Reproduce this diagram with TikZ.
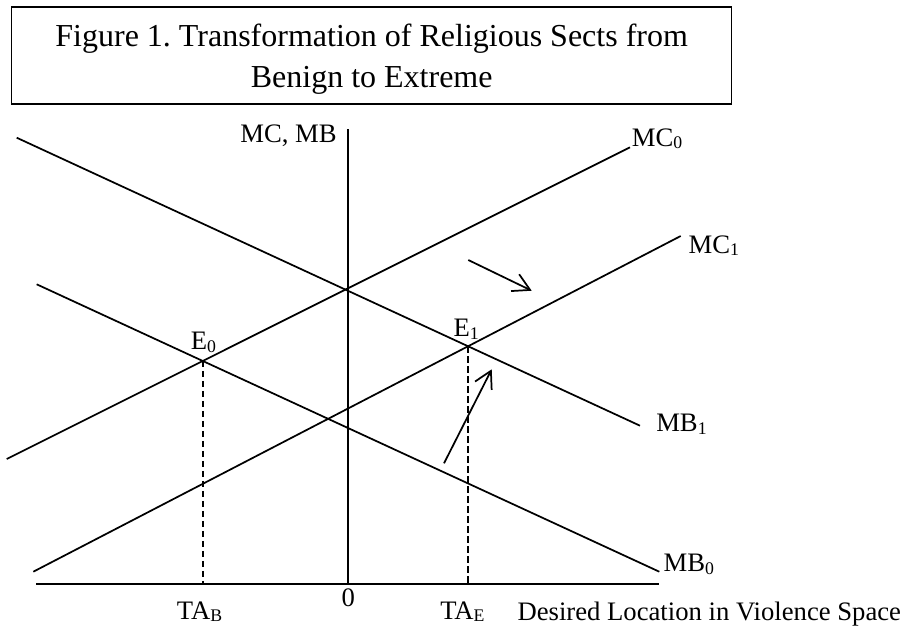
\documentclass[tikz,border=0pt]{standalone}
\usepackage{fontspec}
\setmainfont{Liberation Serif}
\usetikzlibrary{arrows.meta}
\newcommand{\lsub}[1]{\raisebox{-2pt}{\fontsize{13.3pt}{13.3pt}\selectfont #1}}
\frenchspacing
\begin{document}
\begin{tikzpicture}[x=0.75pt,y=-0.75pt,
  curve/.style={line width=1.3pt},
  boxline/.style={line width=0.8pt},
  lbl/.style={inner sep=0pt, font=\fontsize{20pt}{24pt}\selectfont},
  ttl/.style={inner sep=0pt, font=\fontsize{24pt}{29pt}\selectfont},
  guide/.style={line width=1.3pt, dash pattern=on 4.8pt off 2.7pt},
  shiftarrow/.style={line width=1.3pt, -{Straight Barb[length=12.5pt,width=14pt]}}]
\useasboundingbox (0,0) rectangle (910,626);

% title box
\coordinate (tbA) at (11.7,7);
\coordinate (tbB) at (731.7,104);
\draw[boxline] (tbA) rectangle (tbB);
\node[ttl, anchor=base] (title1) at (371.7,46.7) {Figure 1. Transformation of Religious Sects from};
\node[ttl, anchor=base] (title2) at (371.7,87.3) {Benign to Extreme};

% axes
\coordinate (ytop) at (348.3,129.3);
\coordinate (O) at (348.3,584);
\coordinate (xl) at (36,584);
\coordinate (xr) at (659.3,584);
\draw[curve] (ytop) -- (O);
\draw[curve] (xl) -- (xr);

% curves
\coordinate (mb1a) at (16.7,137.7);
\coordinate (mb1b) at (640,425.7);
\coordinate (mc0a) at (6.7,459);
\coordinate (mc0b) at (630,147.3);
\coordinate (mc1a) at (33.3,571.7);
\coordinate (mc1b) at (680.7,236);
\coordinate (mb0a) at (36.7,284.3);
\coordinate (mb0b) at (659.3,571.7);
\draw[curve] (mb1a) -- (mb1b);
\draw[curve] (mc0a) -- (mc0b);
\draw[curve] (mc1a) -- (mc1b);
\draw[curve] (mb0a) -- (mb0b);

% equilibria
\coordinate (E0) at (intersection of mb0a--mb0b and mc0a--mc0b);
\coordinate (E1) at (intersection of mb1a--mb1b and mc1a--mc1b);
\draw[guide] (E0) -- (E0 |- O);
\draw[guide] (E1) -- (E1 |- O);

% shift arrows
\coordinate (a1s) at (468.3,260);
\coordinate (a1e) at (531.7,290.7);
\coordinate (a2s) at (444,463.3);
\coordinate (a2e) at (491.7,369.3);
\draw[shiftarrow] (a1s) -- (a1e);
\draw[shiftarrow] (a2s) -- (a2e);

% labels
\node[lbl, anchor=base east] (ylab) at (337,142.3) {MC, MB};
\node[lbl, anchor=base west] (lmc0) at (631.7,146) {MC\lsub{0}};
\node[lbl, anchor=base west] (lmc1) at (688.3,253.3) {MC\lsub{1}};
\node[lbl, anchor=base west] (lmb1) at (656,431.7) {MB\lsub{1}};
\node[lbl, anchor=base west] (lmb0) at (663.3,571.7) {MB\lsub{0}};
\node[lbl, anchor=base west] (le0) at (190.5,349.5) {E\lsub{0}};
\node[lbl, anchor=base west] (le1) at (453.3,336.7) {E\lsub{1}};
\node[lbl, anchor=base] (zero) at (348.3,606.7) {0};
\node[lbl, anchor=base west] (ltab) at (176.7,619.3) {TA\lsub{B}};
\node[lbl, anchor=base west] (ltae) at (440,619.3) {TA\lsub{E}};
\node[lbl, anchor=base west] (xlab) at (517.3,620) {Desired Location in Violence Space};
\end{tikzpicture}
\end{document}
